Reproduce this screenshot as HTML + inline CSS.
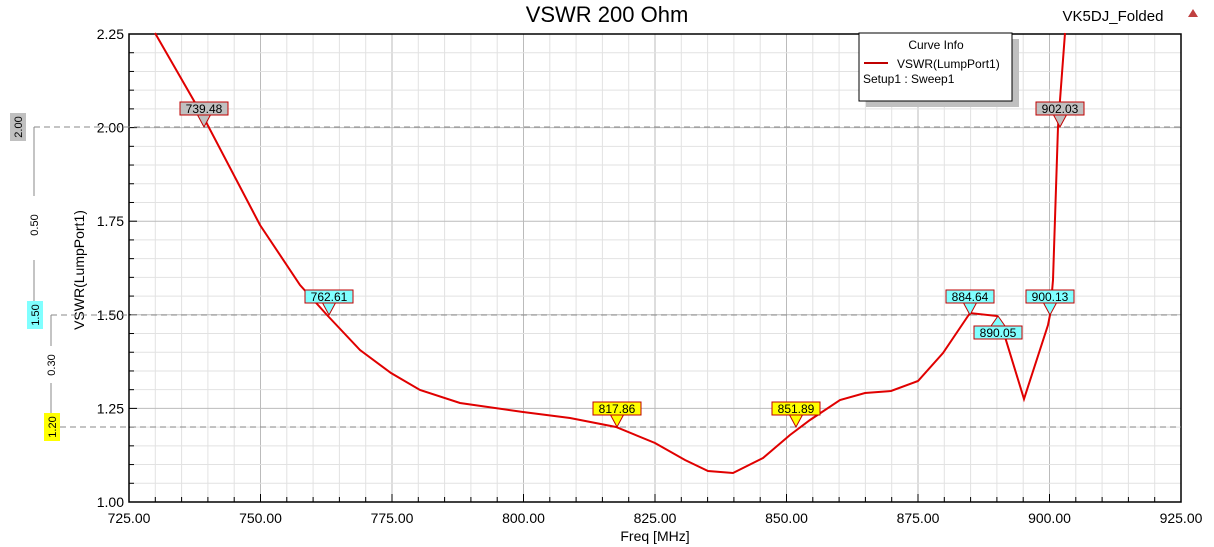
<!DOCTYPE html>
<html><head><meta charset="utf-8"><style>
html,body{margin:0;padding:0;background:#fff;}
svg{display:block;font-family:"Liberation Sans",sans-serif;}
</style></head><body>
<svg id="s" width="1214" height="547" xmlns="http://www.w3.org/2000/svg">
<g id="grid"></g>
<rect x="129" y="34" width="1052" height="468" fill="none" stroke="#000" stroke-width="1.5"/>
<g id="ticks"></g>
<text x="607" y="22" font-size="22" text-anchor="middle">VSWR 200 Ohm</text>
<text x="1113" y="21" font-size="15" text-anchor="middle">VK5DJ_Folded</text>
<path d="M1188 17 L1193 9 L1198 17 Z" fill="#c04040"/>
<text x="84" y="270" font-size="14" text-anchor="middle" transform="rotate(-90 84 270)">VSWR(LumpPort1)</text>
<text x="655" y="541" font-size="14" text-anchor="middle">Freq [MHz]</text>
<g stroke="#888" stroke-dasharray="6,4" stroke-width="1">
<line x1="34" y1="127" x2="1181" y2="127"/>
<line x1="51" y1="315" x2="1181" y2="315"/>
<line x1="60" y1="427" x2="1181" y2="427"/>
</g>
<g stroke="#888" stroke-width="1">
<line x1="34" y1="127" x2="34" y2="196"/><line x1="34" y1="260" x2="34" y2="315"/>
<line x1="51" y1="315" x2="51" y2="346"/><line x1="51" y1="383" x2="51" y2="414"/>
</g>
<g font-size="11">
<text transform="rotate(-90 38 225)" x="38" y="225" text-anchor="middle">0.50</text>
<text transform="rotate(-90 55 365)" x="55" y="365" text-anchor="middle">0.30</text>
<rect x="10" y="113" width="16" height="28" fill="#c0c0c0"/>
<text transform="rotate(-90 22 127)" x="22" y="127" text-anchor="middle">2.00</text>
<rect x="27" y="301" width="16" height="28" fill="#80ffff"/>
<text transform="rotate(-90 39 315)" x="39" y="315" text-anchor="middle">1.50</text>
<rect x="44" y="413" width="16" height="28" fill="#ffff00"/>
<text transform="rotate(-90 56 427)" x="56" y="427" text-anchor="middle">1.20</text>
</g>
<polyline fill="none" stroke="#e00000" stroke-width="2" points="155,33 205,120 260,225 300,285 327,315 360,350 391,373 420,390 460,403 523,412 570,418 616,427 655,443 685,460 708,471 733,473 763,458 790,435 810,420 840,400 865,393 891,391 918,381 943,353 970,313 997,316 1005,337 1024,399 1048,325 1050,315 1053,280 1058,127 1065,33"/>
<g id="mk" font-size="12"></g>
<rect x="866" y="39" width="153" height="68" fill="#c0c0c0"/>
<rect x="859" y="33" width="153" height="68" fill="#fff" stroke="#000"/>
<text x="936" y="49" font-size="12" text-anchor="middle">Curve Info</text>
<line x1="864" y1="63" x2="888" y2="63" stroke="#c00000" stroke-width="2"/>
<text x="897" y="68" font-size="12">VSWR(LumpPort1)</text>
<text x="863" y="83" font-size="12">Setup1 : Sweep1</text>
</svg>
<script>
const NS="http://www.w3.org/2000/svg";
function el(p,t,a,txt){const e=document.createElementNS(NS,t);for(const k in a)e.setAttribute(k,a[k]);if(txt)e.textContent=txt;p.appendChild(e);return e;}
const g=document.getElementById("grid"),tk=document.getElementById("ticks");
const X=f=>129+(f-725)*1052/200, Y=v=>502-(v-1)*468/1.25;
for(let f=730;f<925;f+=5){const x=X(f);el(g,"line",{x1:x,y1:34,x2:x,y2:502,stroke:f%25==0?"#bbb":"#e2e2e2"});el(tk,"line",{x1:x,y1:502,x2:x,y2:f%25==0?494:497,stroke:"#000"});}
for(let i=1;i<25;i++){const v=1+i*0.05,y=Y(v);el(g,"line",{x1:129,y1:y,x2:1181,y2:y,stroke:i%5==0?"#bbb":"#e2e2e2"});el(tk,"line",{x1:129,y1:y,x2:i%5==0?137:134,y2:y,stroke:"#000"});}
for(let f=725;f<=925;f+=25){el(tk,"text",{x:X(f),y:523,"font-size":14,"text-anchor":"middle"},f.toFixed(2));}
for(let v=1;v<=2.25;v+=0.25){el(tk,"text",{x:124,y:Y(v)+5,"font-size":14,"text-anchor":"end"},v.toFixed(2));}
const mk=document.getElementById("mk");
const M=[["739.48",204,127,"#c0c0c0",-1],["762.61",329,315,"#80ffff",-1],["817.86",617,427,"#ffff00",-1],["851.89",796,427,"#ffff00",-1],["884.64",970,315,"#80ffff",-1],["890.05",998,316,"#80ffff",1],["900.13",1050,315,"#80ffff",-1],["902.03",1060,127,"#c0c0c0",-1]];
for(const [t,x,y,c,d] of M){
 if(d<0){el(mk,"path",{d:`M${x-7} ${y-13} L${x} ${y} L${x+7} ${y-13}Z`,fill:c,stroke:"#c00000"});
  el(mk,"rect",{x:x-24,y:y-25,width:48,height:13,fill:c,stroke:"#c00000"});
  el(mk,"text",{x:x,y:y-14,"text-anchor":"middle"},t);}
 else{el(mk,"path",{d:`M${x-7} ${y+10} L${x} ${y} L${x+7} ${y+10}Z`,fill:c,stroke:"#c00000"});
  el(mk,"rect",{x:x-24,y:y+10,width:48,height:13,fill:c,stroke:"#c00000"});
  el(mk,"text",{x:x,y:y+21,"text-anchor":"middle"},t);}
}
</script>
</body></html>
